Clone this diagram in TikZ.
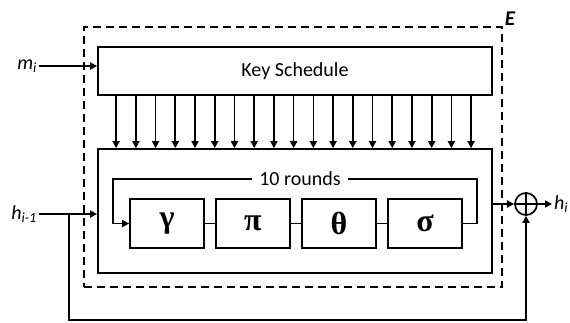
\documentclass[tikz,border=0pt]{standalone}
\usepackage{fontspec}
\setmainfont{Carlito}
\newfontfamily\grk{Liberation Serif}
\usetikzlibrary{arrows.meta,calc}
\tikzset{
  box/.style={draw,line width=1.7pt,inner sep=0pt},
  rbox/.style={box,minimum width=74pt,minimum height=49pt,font=\grk\bfseries\fontsize{32}{32}\selectfont},
  conn/.style={line width=1.7pt},
  arr/.style={conn,-{Triangle[length=7pt,width=7pt]}},
  lbl/.style={font=\fontsize{20}{20}\selectfont,inner sep=0pt},
}
\begin{document}
\begin{tikzpicture}[x=1pt,y=-1pt]
\useasboundingbox (0,0) rectangle (570,322);
% dashed enclosure
\node[draw,dashed,line width=1.4pt,dash pattern=on 8pt off 5pt,minimum width=418pt,minimum height=260pt,inner sep=0pt] (E) at (293,157) {};
\node[lbl,font=\fontsize{21}{21}\selectfont\bfseries\itshape,anchor=south west] (Elbl) at ($(E.north east)+(2,-1)$) {E};
% key schedule
\node[box,minimum width=394pt,minimum height=48pt,lbl] (ks) at (295,71) {Key Schedule};
% rounds box
\node[box,minimum width=394pt,minimum height=124pt] (rb) at (295,211) {};
% round functions
\node[rbox] (g) at (167,223.5) {γ};
\node[rbox] (p) at (253,223.5) {π};
\node[rbox] (t) at (339,223.5) {θ};
\node[rbox] (s) at (425,223.5) {σ};
\draw[conn] (g) -- (p) (p) -- (t) (t) -- (s);
% loop
\coordinate (lr) at (477,179);
\coordinate (ll) at (113,179);
\draw[arr] (s.east) -| (lr) -- (ll) |- (g.west);
\node[lbl,fill=white,inner xsep=7pt,inner ysep=2pt] (rounds) at (300,179) {10 rounds};
% key arrows
\foreach \i in {0,...,18} {
  \draw[arr] ($(ks.south west)+(117-98+\i*19.72,0)$) coordinate (k\i) -- (k\i |- rb.north);
}
% inputs
\coordinate (mi) at (39,66);
\node[lbl,anchor=east] (milbl) at (37,66) {\textit{m}\textsubscript{\textit{i}}};
\draw[arr] (mi) -- (ks.west |- mi);
\coordinate (hin) at (39,214);
\node[lbl,anchor=east] (hinlbl) at (37,214) {\textit{h}\textsubscript{\textit{i-1}}};
\draw[arr] (hin) -- (rb.west |- hin);
% xor
\node[draw,circle,line width=1.7pt,minimum size=22pt,inner sep=0pt] (x) at (526,204) {};
\draw[line width=1.7pt] (x.north) -- (x.south) (x.west) -- (x.east);
\draw[arr] (rb.east |- x.west) -- (x.west);
\coordinate (hout) at (552,204);
\draw[arr] (x.east) -- (hout);
\node[lbl,anchor=west] (houtlbl) at (554,204) {\textit{h}\textsubscript{\textit{i}}};
% feed-forward
\coordinate (br) at (69,214);
\coordinate (bl) at (69,320);
\draw[arr] (br) -- (bl) -| (x.south);
\end{tikzpicture}
\end{document}
